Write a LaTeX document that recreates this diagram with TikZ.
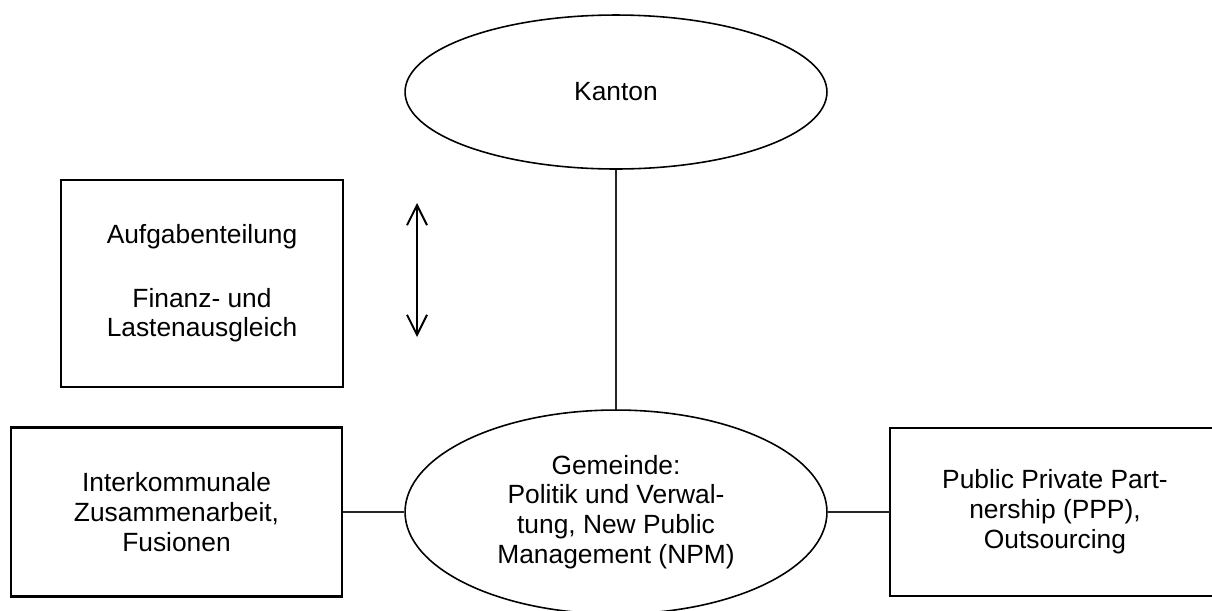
\documentclass[tikz,border=0pt]{standalone}
\usepackage{fontspec}
\setmainfont{Liberation Sans}
\usetikzlibrary{shapes.geometric,arrows.meta}

\begin{document}
\begin{tikzpicture}[x=0.02cm, y=-0.02cm,
        main/.style = {draw, ellipse, line width=0.9pt, inner sep=0pt, align=center, font=\fontsize{15}{17}\selectfont},
        box/.style = {draw, rectangle, line width=1.2pt, inner sep=0pt, align=center, font=\fontsize{15}{17}\selectfont},
        link/.style = {draw, line width=0.7pt, black!85}]
    \useasboundingbox (0,0) rectangle (1212,610);
    \clip (0,0) rectangle (1212,610);

        \node[main, minimum width=8.44cm, minimum height=3.08cm] (kanton) at (616,92) {Kanton};
        \node[main, minimum width=8.44cm, minimum height=4.08cm] (gemeinde) at (616,512) {Gemeinde:\\Politik und Verwal-\\tung, New Public\\Management (NPM)};
        \node[box, minimum width=5.64cm, minimum height=4.14cm] (aufgaben) at (202,283.5) {Aufgabenteilung\\[19pt]Finanz- und\\Lastenausgleich};
        \node[box, minimum width=6.62cm, minimum height=3.38cm] (inter) at (176.5,512) {Interkommunale\\Zusammenarbeit,\\Fusionen};
        \node[box, draw=none, minimum width=6.56cm, minimum height=3.32cm] (ppp) at (1055,512) {Public Private Part-\\nership (PPP),\\Outsourcing};
        \draw[line width=1.2pt] (ppp.north west) rectangle ([xshift=3cm]ppp.south east);

        \coordinate (up) at (417,203);
        \coordinate (down) at (417,337);

        \path[link] (kanton) -- (gemeinde);
        \path[link] (inter) -- (gemeinde);
        \path[link] (gemeinde) -- (ppp);
        \draw[{Straight Barb[length=4mm, width=4mm]}-{Straight Barb[length=4mm, width=4mm]}, line width=1.1pt] (up) -- (down);

\end{tikzpicture}
\end{document}
